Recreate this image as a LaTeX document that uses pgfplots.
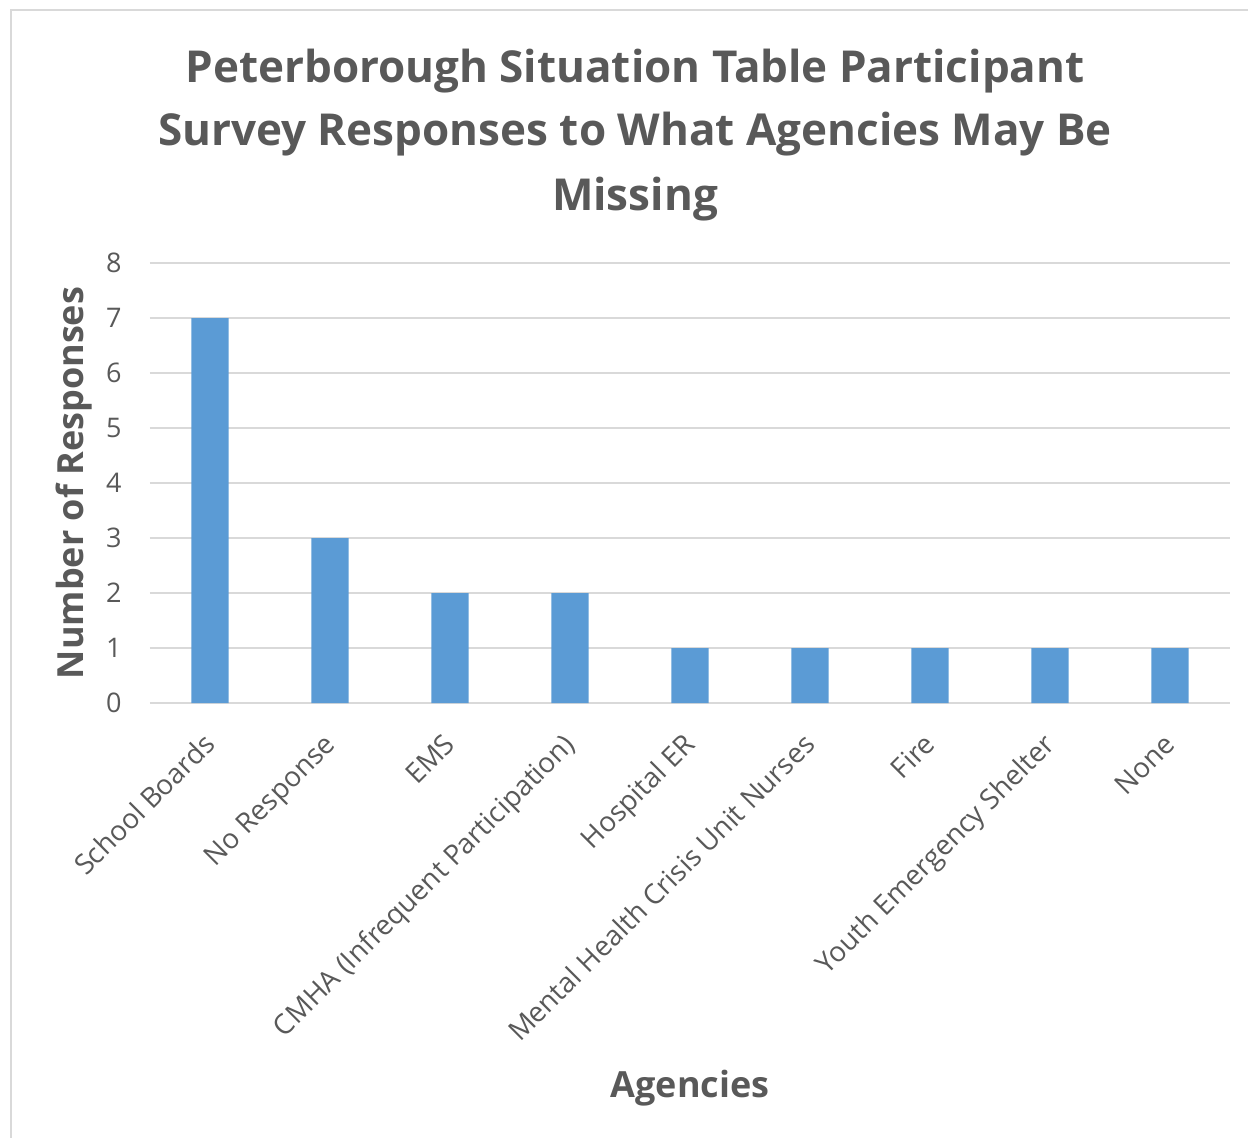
\documentclass[border=0pt]{standalone}
\usepackage{fontspec}
\setmainfont{Open Sans}
\usepackage{pgfplots}
\pgfplotsset{compat=1.18}
\definecolor{barblue}{HTML}{5B9BD5}
\definecolor{txt}{HTML}{595959}
\definecolor{gridc}{HTML}{D9D9D9}
\begin{document}
\begin{tikzpicture}
\useasboundingbox (-75pt,-217pt) rectangle (549pt,351.5pt);
\draw[gridc, line width=0.8pt] (-69.5pt,-230pt) -- (-69.5pt,346.5pt) -- (560pt,346.5pt);
\begin{axis}[
  at={(0,0)}, anchor=south west,
  scale only axis, width=540pt, height=220pt,
  xmin=-0.5, xmax=8.5, ymin=0, ymax=8,
  ytick={0,1,...,8},
  xtick={0,1,...,8},
  xticklabels={School Boards, No Response, EMS, CMHA (Infrequent Participation), Hospital ER, Mental Health Crisis Unit Nurses, Fire, Youth Emergency Shelter, None},
  axis line style={draw=none},
  major tick length=0pt,
  ymajorgrids, grid style={gridc, line width=0.75pt},
  /pgf/number format/assume math mode=true,
  tick label style={text=txt},
  yticklabel style={font=\fontsize{13.5}{16}\selectfont, anchor=east, inner sep=0pt, xshift=-14pt},
  xticklabel style={font=\fontsize{13.9}{17}\selectfont, xshift=3.5pt, yshift=-21.5pt, rotate=45, anchor=base east, inner sep=0pt},
  xlabel={Agencies}, ylabel={Number of Responses},
  every axis x label/.style={at={(rel axis cs:0.5,0)}, anchor=center, yshift=-192.5pt, font=\bfseries\fontsize{18}{22}\selectfont, text=txt},
  every axis y label/.style={at={(rel axis cs:0,0.5)}, xshift=-38pt, rotate=90, anchor=center, font=\bfseries\fontsize{18}{22}\selectfont, text=txt},
  ybar, bar width=18.7pt,
]
\addplot[fill=barblue, draw=none] coordinates {(0,7) (1,3) (2,2) (3,2) (4,1) (5,1) (6,1) (7,1) (8,1)};
\end{axis}
\begin{scope}[every node/.style={font=\bfseries\fontsize{22}{26}\selectfont, text=txt, anchor=base}]
\node at (242.5pt,310.5pt) {Peterborough Situation Table Participant};
\node at (242.5pt,279pt) {Survey Responses to What Agencies May Be};
\node at (242.5pt,246.5pt) {Missing};
\end{scope}
\end{tikzpicture}
\end{document}
